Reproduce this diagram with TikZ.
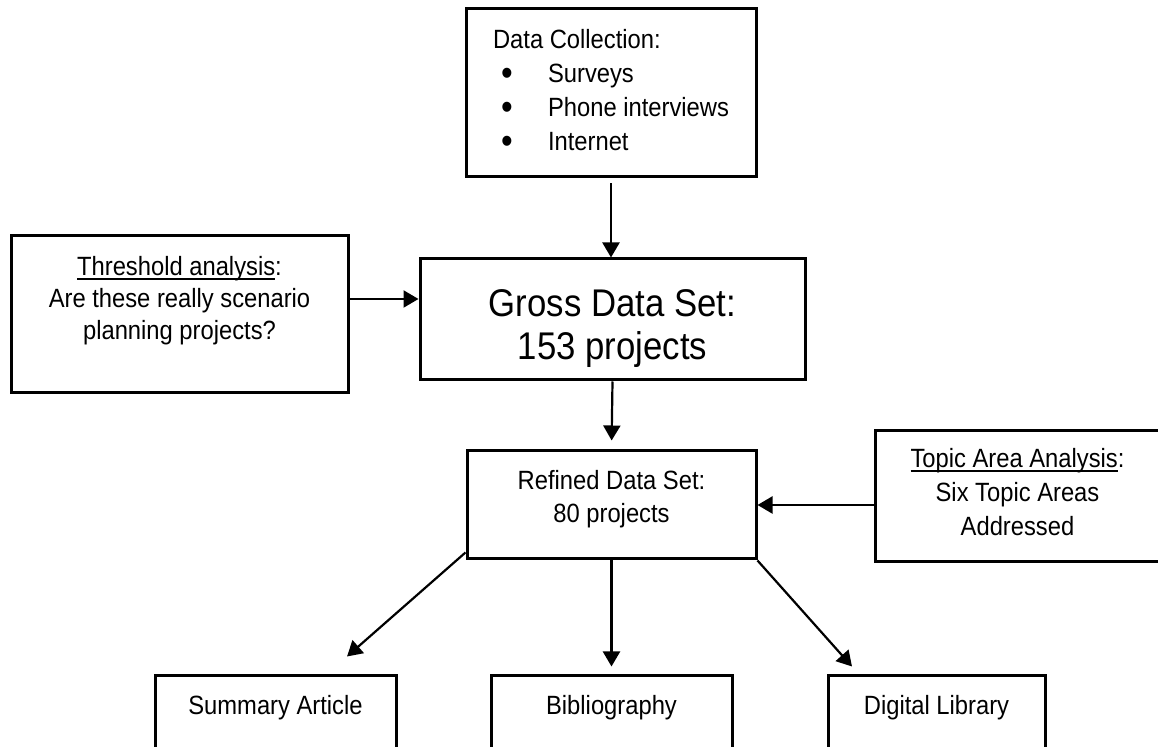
\documentclass[tikz,border=0pt]{standalone}
\usepackage{fontspec}
\usepackage{graphicx}
\setmainfont{Liberation Sans}[FakeStretch=0.9]
\usetikzlibrary{calc,arrows.meta}
\tikzset{
    flow box/.style={
        draw,
        line width=1.5pt,
        inner sep=0pt,
        font=\fontsize{13.2}{16.5}\selectfont
    },
    big box/.style={flow box, font=\fontsize{19.3}{21.5}\selectfont},
    flow arrow/.style={line width=1.1pt, -{Triangle[length=7.5pt,width=8.5pt]}}
}
\newcommand{\Lines}[1]{\begin{tabular}[t]{@{}c@{}}#1\end{tabular}}
\newcommand{\Item}{\makebox[27.5pt][l]{\hspace{4pt}\raisebox{-1.2pt}{\scalebox{1.4}{\textbullet}}}}
\newcommand{\Under}[1]{\setbox0\hbox{#1}\rlap{\rule[-1.8pt]{\wd0}{0.8pt}}\box0}

\begin{document}
\begin{tikzpicture}[x=0.5pt,y=-0.5pt]
    \clip(0,0)rectangle(1158,747);
    % boxes
    \node[flow box,minimum width=145pt,text height=20pt,text depth=64pt,
        font=\fontsize{13.2}{17}\selectfont]
        (datacol)at(611,93){\begin{tabular}[t]{@{}l@{}}Data Collection:\\
        \Item Surveys\\ \Item Phone interviews\\ \Item Internet\end{tabular}\hspace{11pt}};
    \node[big box,minimum width=192.5pt,text height=29pt,text depth=31.5pt]
        (gross)at(612.5,319.5){\Lines{Gross Data Set:\\153 projects}};
    \node[flow box,minimum width=168.5pt,text height=20pt,text depth=58.5pt,
        font=\fontsize{13.2}{16}\selectfont]
        (thresh)at(179.5,314.5){\Lines{\Under{Threshold analysis}:\\
        Are these really scenario\\planning projects?}};
    \node[flow box,minimum width=144.5pt,text height=19.5pt,text depth=34.5pt]
        (refined)at(611.5,505){\Lines{Refined Data Set:\\80 projects}};
    \node[flow box,minimum width=142.5pt,text height=18.5pt,text depth=47pt,
        font=\fontsize{13.2}{17}\selectfont]
        (topic)at(1017.5,496.5){\Lines{\Under{Topic Area Analysis}:\\
        Six Topic Areas\\Addressed}};
    \node[flow box,minimum width=120.5pt,text height=19.5pt,text depth=42.5pt]
        (summary)at(275.5,738){Summary Article};
    \node[flow box,minimum width=120.5pt,text height=19.5pt,text depth=42.5pt]
        (biblio)at(611.5,738){Bibliography};
    \node[flow box,minimum width=108.5pt,text height=19.5pt,text depth=42.5pt]
        (digital)at(936.5,738){Digital Library};
    % arrows
    \coordinate(thr)at([yshift=7.75pt]thresh.east);
    \coordinate(sumtip)at([xshift=35.75pt,yshift=9pt]summary.north);
    \coordinate(digtip)at([xshift=-42.25pt,yshift=4pt]digital.north);
    \draw[flow arrow,shorten <=2.5pt](datacol.south)--(datacol.south|-gross.north);
    \draw[flow arrow](thr)--(thr-|gross.west);
    \draw[flow arrow,shorten >=4.5pt](gross.south)--(refined.north);
    \draw[flow arrow](topic.west|-refined.east)--(refined.east);
    \draw[flow arrow]([yshift=4pt]refined.south west)--(sumtip);
    \draw[flow arrow,shorten >=4pt](refined.south)--(biblio.north);
    \draw[flow arrow](refined.south east)--(digtip);
\end{tikzpicture}
\end{document}
